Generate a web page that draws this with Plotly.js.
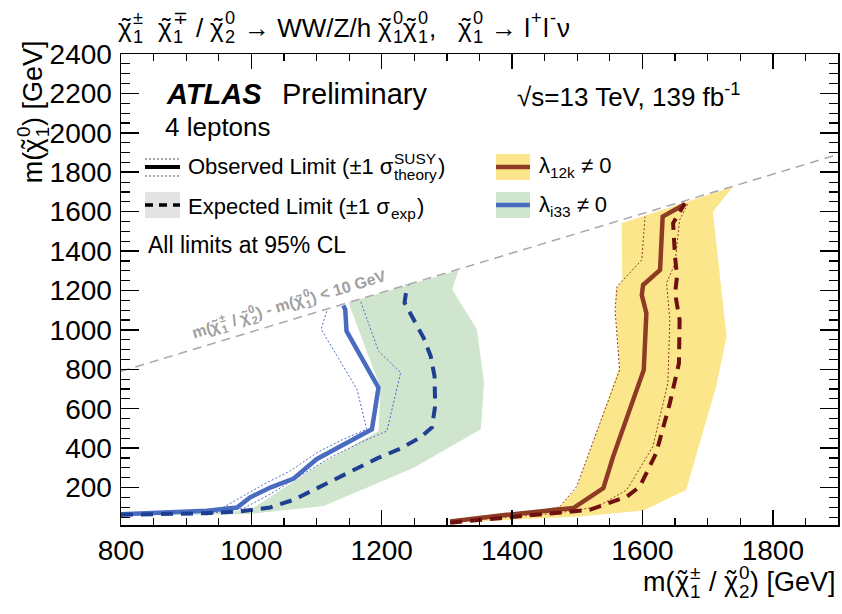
<!DOCTYPE html>
<html><head><meta charset="utf-8">
<script src="https://cdn.plot.ly/plotly-3.0.1.min.js"></script>
<style>html,body{margin:0;padding:0;background:#fff}#chart{width:842px;height:614px}</style>
</head><body><div id="chart"></div>
<script>
// ---------- data (GeV) ----------
// kinematic limit line m(chi2) - m(chi1) = 10 GeV
const diagX = [800, 1900];
const diagY = [790, 1890];

// lambda_i33 (blue)
const i33ObsX = [800, 932, 978, 998, 1029, 1065, 1100, 1141, 1185, 1195, 1146, 1144, 1141];
const i33ObsY = [65, 82, 99, 150, 200, 246, 344, 420, 496, 707, 994, 1104, 1124];
const i33ObsDnX = [940, 957, 988, 1019, 1060, 1101, 1141, 1177, 1162, 1107, 1116];
const i33ObsDnY = [70, 99, 158, 217, 285, 378, 445, 496, 699, 1003, 1099];
const i33ObsUpX = [940, 988, 1029, 1075, 1121, 1167, 1208, 1229, 1195, 1167];
const i33ObsUpY = [70, 94, 167, 259, 352, 428, 487, 783, 893, 1150];
const i33ExpX = [800, 932, 983, 1029, 1065, 1106, 1147, 1193, 1229, 1259, 1277, 1282, 1281, 1275, 1264, 1246, 1235, 1239];
const i33ExpY = [62, 70, 79, 99, 138, 206, 277, 348, 398, 454, 505, 614, 766, 868, 961, 1070, 1138, 1229];
const i33BandLoX = [800, 932, 998, 1055, 1101, 1147, 1195, 1198, 1149];
const i33BandLoY = [66, 72, 86, 209, 310, 395, 487, 707, 1139];
const i33BandHiX = [800, 932, 998, 1111, 1249, 1352, 1357, 1346, 1308, 1318];
const i33BandHiY = [58, 62, 66, 107, 301, 496, 733, 1003, 1205, 1303];

// lambda_12k (brown / yellow)
const l12ObsX = [1305, 1392, 1494, 1540, 1555, 1602, 1606, 1599, 1601, 1627, 1631, 1665];
const l12ObsY = [28, 62, 96, 197, 357, 797, 1085, 1177, 1228, 1304, 1575, 1638];
const l12ObsDnX = [1310, 1392, 1473, 1499, 1565, 1558, 1561, 1599, 1604];
const l12ObsDnY = [28, 53, 102, 205, 797, 1101, 1220, 1355, 1575];
const l12ObsUpX = [1340, 1468, 1530, 1576, 1616, 1639, 1642, 1637, 1650, 1657, 1670];
const l12ObsUpY = [36, 70, 101, 188, 408, 730, 1051, 1237, 1338, 1558, 1643];
const l12ExpX = [1305, 1443, 1519, 1576, 1596, 1621, 1642, 1656, 1657, 1650, 1653, 1650, 1647, 1665];
const l12ExpY = [22, 62, 87, 154, 205, 374, 628, 831, 1051, 1186, 1270, 1372, 1541, 1643];
const l12BandLoX = [1305, 1392, 1473, 1499, 1565, 1559, 1559, 1569, 1568];
const l12BandLoY = [30, 56, 101, 197, 814, 1085, 1203, 1254, 1541];
const l12BandHiX = [1305, 1392, 1504, 1601, 1667, 1713, 1729, 1708, 1739];
const l12BandHiY = [22, 36, 53, 83, 188, 712, 966, 1600, 1727];

const xTickVals = [800, 1000, 1200, 1400, 1600, 1800];
const yTickVals = [200, 400, 600, 800, 1000, 1200, 1400, 1600, 1800, 2000, 2200, 2400];

// ---------- styling ----------
const C = {
  blueObs: '#4a6cc0', blueExp: '#1f3f93', green: '#d0e5cd',
  brownObs: '#8e3b25', brownExp: '#6e1010', yellow: '#fce68c',
  diag: '#a8a8a8'
};
const FAM = 'Liberation Sans';
const FONT = 'Liberation Sans, Arial, Helvetica, sans-serif';
const M = {l: 121, r: 4, t: 54, b: 89};
const PW = 842 - M.l - M.r, PH = 614 - M.t - M.b;
const pxX = p => (p - M.l) / PW;
const pxY = p => (614 - M.b - p) / PH;

function band(loX, loY, hiX, hiY, color) {
  return {x: loX.concat(hiX.slice().reverse()), y: loY.concat(hiY.slice().reverse()),
    mode: 'lines', fill: 'toself', fillcolor: color, line: {width: 0}, hoverinfo: 'skip'};
}
function line(x, y, color, width, dash) {
  return {x: x, y: y, mode: 'lines', line: {color: color, width: width, dash: dash || 'solid'}, hoverinfo: 'skip'};
}

const traces = [
  band(l12BandLoX, l12BandLoY, l12BandHiX, l12BandHiY, C.yellow),
  band(i33BandLoX, i33BandLoY, i33BandHiX, i33BandHiY, C.green),
  line(diagX, diagY, C.diag, 1.5, '9px,6px'),
  line(i33ObsDnX, i33ObsDnY, C.blueObs, 1, '2px,2px'),
  line(i33ObsUpX, i33ObsUpY, C.blueObs, 1, '2px,2px'),
  line(l12ObsDnX, l12ObsDnY, C.brownObs, 1, '2px,2px'),
  line(l12ObsUpX, l12ObsUpY, C.brownObs, 1, '2px,2px'),
  line(i33ObsX, i33ObsY, C.blueObs, 4.5),
  line(l12ObsX, l12ObsY, C.brownObs, 4.5),
  line(i33ExpX, i33ExpY, C.blueExp, 4, '12px,8px'),
  line(l12ExpX, l12ExpY, C.brownExp, 4, '12px,8px')
];

// ---------- rich text composer (stacked sub/superscripts, tilde accents) ----------
const ctx = document.createElement('canvas').getContext('2d');
function tw(t, size, bold) { ctx.font = (bold ? 'bold ' : '') + size + 'px "' + FAM + '"'; return ctx.measureText(t).width; }
function esc(t) { return t.replace(/&/g, '&amp;').replace(/</g, '&lt;').replace(/>/g, '&gt;'); }

function rich(pieces, px, py, size, opts) {
  opts = opts || {};
  const ang = opts.angle || 0, th = ang * Math.PI / 180;
  const d = [Math.cos(th), -Math.sin(th)], n = [-Math.sin(th), -Math.cos(th)];
  const bold = !!opts.bold, color = opts.color || '#000', ss = size * 0.7;
  const items = []; let adv = 0;
  const put = (text, sz, a, off) => items.push({text, sz, a, off});
  const script = (sup, sub) => {
    const w1 = sup ? tw(sup, ss, bold) : 0, w2 = sub ? tw(sub, ss, bold) : 0;
    if (sup) put(sup, ss, adv + 1 + w1 / 2, size * 0.37);
    if (sub) put(sub, ss, adv + 1 + w2 / 2, -size * 0.34);
    adv += Math.max(w1, w2) + 2;
  };
  for (const p of pieces) {
    if (typeof p === 'string') {
      const lead = p.length - p.replace(/^ +/, '').length;
      const trail = p.length - p.replace(/ +$/, '').length;
      const core = p.trim();
      adv += lead * tw(' ', size, bold);
      if (core) { const w = tw(core, size, bold); put(core, size, adv + w / 2, 0); adv += w; }
      adv += trail * tw(' ', size, bold);
    } else if (p.chi) {
      const w = tw('χ', size, bold);
      put('χ', size, adv + w / 2, 0);
      put('\u02DC', size, adv + w / 2 + size * 0.04, size * 0.02);
      adv += w;
      script(p.sup, p.sub);
    } else {
      script(p.sup, p.sub);
    }
  }
  let sx = px, sy = py;
  if (opts.anchor === 'right') { sx = px - adv * d[0]; sy = py - adv * d[1]; }
  else if (opts.anchor === 'center') { sx = px - adv / 2 * d[0]; sy = py - adv / 2 * d[1]; }
  return items.map(it => ({
    text: bold ? '<b>' + esc(it.text) + '</b>' : esc(it.text),
    xref: 'paper', yref: 'paper',
    x: pxX(sx + it.a * d[0] + it.off * n[0]), y: pxY(sy + it.a * d[1] + it.off * n[1]),
    xanchor: 'center', yanchor: 'middle', showarrow: false, textangle: -ang,
    font: {family: FONT, size: it.sz, color: color}
  }));
}

function ann(text, x, y, size, opts) {
  return Object.assign({text: text, xref: 'paper', yref: 'paper', x: pxX(x), y: pxY(y),
    xanchor: 'left', yanchor: 'middle', showarrow: false, font: {family: FONT, size: size, color: '#000'}}, opts || {});
}

const X = (sub, sup) => ({chi: true, sub: sub, sup: sup});
let annotations = [];
annotations = annotations.concat(
  rich([X('1', '±'), ' ', X('1', '∓'), ' / ', X('2', '0'), ' → WW/Z/h ', X('1', '0'), X('1', '0'),
        ',   ', X('1', '0'), ' → l', {sup: '+'}, 'l', {sup: '-'}, 'ν'], 118, 28, 26),
  rich(['m(', X('1', '0'), ') [GeV]'], 33, 184, 27, {angle: 90}),
  rich(['m(', X('1', '±'), ' / ', X('2', '0'), ') [GeV]'], 836, 582, 27, {anchor: 'right'}),
  rich(['Observed Limit (±1 σ', {sup: 'SUSY', sub: 'theory'}, ')'], 188, 167, 22),
  rich(['Expected Limit (±1 σ', {sub: 'exp'}, ')'], 188, 206, 22),
  rich(['m(', X('1', '±'), ' / ', X('2', '0'), ') - m(', X('1', '0'), ') < 10 GeV'], 289, 304, 16,
       {angle: 16.8, anchor: 'center', bold: true, color: '#a0a0a0'})
);
annotations.push(
  ann('<b><i>ATLAS</i></b>', 164, 94, 29),
  ann('Preliminary', 280, 94, 29),
  ann('4 leptons', 163, 127, 26),
  ann('√s=13 TeV, 139 fb<sup>-1</sup>', 515, 95, 26),
  ann('All limits at 95% CL', 146, 245, 23),
  ann('λ<sub>12k</sub> ≠ 0', 537, 167, 22),
  ann('λ<sub>i33</sub> ≠ 0', 537, 206, 22)
);

function rect(x0, y0, x1, y1, color) {
  return {type: 'rect', xref: 'paper', yref: 'paper', x0: pxX(x0), x1: pxX(x1), y0: pxY(y0), y1: pxY(y1),
    fillcolor: color, line: {width: 0}, layer: 'above'};
}
function seg(x0, x1, yp, color, width, dash) {
  return {type: 'line', xref: 'paper', yref: 'paper', x0: pxX(x0), x1: pxX(x1), y0: pxY(yp), y1: pxY(yp),
    line: {color: color, width: width, dash: dash || 'solid'}, layer: 'above'};
}
const shapes = [
  seg(145, 180, 159, '#555', 1, '2px,2px'),
  seg(145, 180, 167, '#000', 4),
  seg(145, 180, 176, '#555', 1, '2px,2px'),
  rect(145, 192, 180, 218, '#e3e3e3'),
  seg(145, 180, 205, '#000', 3.5, '8px,6px'),
  rect(496, 154, 530, 180, C.yellow),
  seg(496, 530, 167, C.brownObs, 4.5),
  rect(496, 192, 530, 218, C.green),
  seg(496, 530, 205, C.blueObs, 4.5)
];

const axisCommon = {
  showgrid: false, zeroline: false, showline: true, linecolor: '#000', linewidth: 1.5,
  mirror: 'ticks', ticks: 'inside', tickcolor: '#000', tickwidth: 1.5,
  tickfont: {family: FONT, size: 28, color: '#000'}
};
const layout = {
  width: 842, height: 614, margin: M, paper_bgcolor: '#fff', plot_bgcolor: '#fff',
  showlegend: false,
  xaxis: Object.assign({}, axisCommon, {range: [800, 1900], tickvals: xTickVals, ticklen: 15,
    minor: {dtick: 50, tick0: 800, ticks: 'inside', ticklen: 7, tickcolor: '#000', tickwidth: 1.2}}),
  yaxis: Object.assign({}, axisCommon, {range: [10, 2400], tickvals: yTickVals, ticklen: 18, ticklabelstandoff: 2,
    minor: {dtick: 50, tick0: 0, ticks: 'inside', ticklen: 9, tickcolor: '#000', tickwidth: 1.2}}),
  annotations: annotations, shapes: shapes
};
Plotly.newPlot('chart', traces, layout, {staticPlot: true, displayModeBar: false});
</script></body></html>
